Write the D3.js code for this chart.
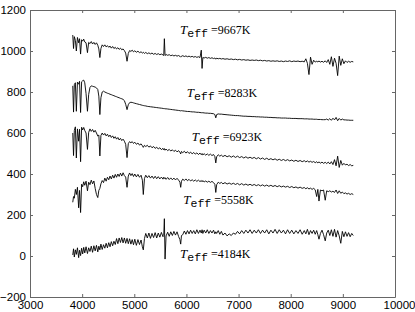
<!DOCTYPE html>
<html>
<head>
<meta charset="utf-8">
<script src="https://cdn.jsdelivr.net/npm/d3@7"></script>
<style>
  body { margin: 0; background: #fff; }
  .axis text { font-family: "Liberation Sans", Arial, sans-serif; font-size: 11.5px; fill: #000; }
  .axis path, .axis line { stroke: #666; }
  .spec { fill: none; stroke: #000; stroke-width: 0.9; stroke-linejoin: round; }
</style>
</head>
<body>
<div id="chart"></div>
<script>
// Sample wavelengths (Angstrom), shared by all spectra
var wave = [
  3820, 3835, 3850, 3870, 3889, 3910, 3933, 3950, 3970, 3990,
  4010, 4030, 4050, 4075, 4102, 4125, 4150, 4175, 4200, 4225,
  4250, 4275, 4300, 4320, 4340, 4360, 4385, 4410, 4435, 4460,
  4485, 4510, 4535, 4560, 4585, 4610, 4635, 4660, 4685, 4710,
  4735, 4760, 4785, 4810, 4835, 4861, 4885, 4910, 4935, 4960,
  4985, 5010, 5040, 5070, 5100, 5130, 5155, 5173, 5195, 5220,
  5250, 5280, 5310, 5340, 5370, 5400, 5430, 5460, 5490, 5520,
  5550, 5565, 5577, 5590, 5610, 5640, 5670, 5700, 5730, 5760,
  5790, 5820, 5850, 5875, 5890, 5905, 5930, 5960, 5990, 6020,
  6050, 6080, 6110, 6140, 6170, 6200, 6230, 6260, 6285, 6300,
  6315, 6340, 6370, 6400, 6430, 6460, 6490, 6520, 6545, 6563,
  6580, 6610, 6640, 6670, 6700, 6740, 6780, 6820, 6860, 6900,
  6940, 6980, 7020, 7060, 7100, 7140, 7180, 7220, 7260, 7300,
  7340, 7380, 7420, 7460, 7500, 7540, 7580, 7620, 7660, 7700,
  7740, 7780, 7820, 7860, 7900, 7940, 7980, 8020, 8060, 8100,
  8140, 8180, 8220, 8260, 8290, 8320, 8350, 8380, 8410, 8440,
  8470, 8498, 8520, 8542, 8570, 8600, 8630, 8662, 8690, 8720,
  8750, 8780, 8810, 8840, 8870, 8900, 8930, 8960, 8990, 9020,
  9050, 9080, 9110, 9140, 9170, 9200
];

// Flux of each spectrum (offset)
var flux9667 = [
  1078, 1012, 1070, 1052, 1000, 1066, 1040, 1060, 985, 1055,
  1048, 1058, 1044, 1040, 992, 1042, 1036, 1046, 1034, 1042,
  1032, 1040, 1028, 1010, 968, 1012, 1030, 1022, 1030, 1020,
  1026, 1018, 1024, 1014, 1022, 1012, 1018, 1010, 1016, 1008,
  1014, 1006, 1010, 1002, 990, 950, 988, 1002, 998, 1004,
  996, 1001, 994, 999, 992, 996, 990, 994, 988, 993,
  987, 991, 986, 990, 984, 988, 983, 987, 982, 985,
  981, 978, 1060, 978, 983, 979, 982, 977, 980, 976,
  979, 975, 978, 974, 970, 975, 977, 973, 976, 972,
  975, 971, 974, 970, 973, 969, 972, 968, 1004, 915,
  968, 966, 969, 965, 968, 964, 967, 963, 966, 960,
  965, 962, 964, 961, 963, 960, 962, 959, 961, 958,
  960, 957, 959, 956, 958, 955, 957, 954, 956, 954,
  956, 953, 955, 952, 954, 951, 953, 950, 952, 950,
  952, 949, 951, 948, 951, 949, 952, 948, 951, 949,
  951, 948, 950, 947, 962, 940, 885, 970, 935, 955,
  946, 950, 947, 951, 946, 950, 945, 952, 944, 958,
  935, 972, 925, 965, 940, 880, 975, 930, 962, 938,
  952, 944, 950, 945, 949, 947
];

var flux8283 = [
  830, 702, 836, 845, 706, 848, 838, 852, 700, 850,
  855, 858, 845, 792, 706, 788, 822, 830, 828, 826,
  824, 820, 812, 780, 690, 772, 800, 804, 800, 797,
  794, 792, 789, 787, 784, 782, 779, 777, 774, 772,
  769, 767, 764, 758, 740, 714, 738, 748, 750, 749,
  747, 745, 743, 741, 739, 737, 735, 734, 733, 732,
  730, 729, 728, 727, 726, 725, 724, 723, 722, 721,
  720, 719, 719, 718, 718, 717, 716, 715, 714, 713,
  712, 711, 710, 709, 708, 709, 708, 707, 706, 705,
  705, 704, 703, 703, 702, 701, 701, 700, 699, 699,
  699, 698, 697, 697, 696, 696, 695, 694, 690, 674,
  690, 693, 692, 692, 691, 690, 689, 688, 687, 686,
  685, 685, 684, 683, 682, 682, 681, 681, 680, 680,
  679, 679, 678, 678, 677, 677, 676, 676, 675, 675,
  674, 674, 673, 673, 673, 672, 672, 671, 671, 671,
  670, 670, 670, 669, 669, 669, 668, 668, 668, 667,
  667, 667, 666, 666, 666, 665, 665, 665, 668, 663,
  670, 662, 672, 664, 676, 660, 671, 663, 668, 664,
  664, 663, 663, 662, 662, 662
];

var flux6923 = [
  600, 490, 612, 630, 478, 620, 560, 618, 460, 628,
  615, 627, 612, 600, 520, 603, 620, 608, 617, 604,
  613, 600, 585, 590, 488, 588, 600, 590, 598, 586,
  594, 582, 590, 578, 586, 574, 582, 570, 578, 566,
  574, 563, 570, 560, 545, 480, 548, 558, 552, 558,
  549, 555, 545, 551, 541, 547, 538, 530, 540, 534,
  540, 531, 537, 528, 534, 525, 531, 522, 528, 519,
  525, 518, 524, 516, 522, 514, 520, 512, 518, 510,
  516, 508, 514, 506, 498, 510, 504, 511, 502, 509,
  500, 507, 498, 505, 497, 503, 495, 502, 494, 500,
  493, 499, 492, 498, 491, 497, 490, 495, 485, 454,
  484, 494, 487, 492, 485, 491, 484, 489, 482, 488,
  481, 487, 480, 485, 478, 484, 477, 482, 476, 481,
  474, 480, 473, 478, 471, 477, 470, 475, 469, 474,
  467, 472, 466, 471, 465, 470, 464, 468, 462, 467,
  461, 466, 460, 465, 459, 464, 458, 462, 457, 461,
  455, 460, 454, 459, 453, 458, 452, 457, 451, 458,
  449, 460, 446, 470, 440, 487, 432, 466, 443, 452,
  444, 448, 441, 446, 440, 442
];

var flux5558 = [
  262, 290, 282, 325, 300, 335, 235, 320, 212, 350,
  338, 362, 345, 365, 318, 360, 348, 370, 352, 366,
  330, 300, 285, 320, 330, 352, 368, 358, 380, 365,
  384, 372, 390, 376, 394, 380, 398, 384, 400, 388,
  404, 390, 406, 392, 385, 335, 390, 405, 392, 402,
  388, 400, 386, 398, 384, 394, 370, 300, 378, 394,
  382, 392, 380, 390, 378, 389, 377, 387, 376, 385,
  375, 384, 378, 382, 374, 383, 373, 381, 372, 380,
  371, 379, 370, 360, 335, 365, 375, 368, 376, 367,
  374, 366, 372, 365, 371, 364, 370, 363, 368, 362,
  368, 361, 366, 360, 365, 359, 364, 358, 350, 310,
  348, 360, 354, 359, 352, 358, 351, 356, 350, 355,
  349, 354, 347, 353, 346, 351, 345, 350, 344, 349,
  343, 348, 342, 347, 341, 346, 340, 345, 339, 344,
  338, 343, 337, 341, 336, 340, 334, 339, 333, 337,
  331, 336, 330, 334, 328, 333, 327, 331, 325, 330,
  323, 290, 325, 268, 322, 318, 322, 272, 318, 314,
  318, 312, 316, 310, 322, 305, 318, 306, 312, 304,
  308, 302, 306, 300, 304, 300
];

var flux4184 = [
  5, 35, -5, 30, 8, 40, -8, 28, 2, 38,
  10, 42, 15, 45, 12, 40, 22, 48, 18, 50,
  25, 52, 20, 48, 30, 58, 32, 55, 38, 62,
  40, 65, 45, 70, 50, 72, 56, 85, 60, 88,
  66, 90, 64, 88, 62, 86, 60, 84, 58, 80,
  55, 82, 52, 80, 56, 78, 45, 30, 85, 110,
  88, 112, 86, 110, 90, 114, 88, 112, 92, 115,
  94, 100, 182, -15, 98, 116, 96, 118, 100, 120,
  102, 118, 95, 80, 58, 100, 104, 122, 106, 124,
  108, 126, 110, 124, 108, 128, 110, 126, 112, 128,
  110, 126, 112, 128, 110, 124, 112, 126, 108, 118,
  110, 124, 106, 120, 102, 112, 98, 108, 100, 112,
  106, 120, 108, 124, 110, 126, 112, 128, 110, 126,
  112, 128, 110, 126, 112, 128, 108, 126, 112, 130,
  110, 128, 112, 126, 108, 128, 110, 126, 108, 124,
  110, 128, 106, 124, 108, 130, 104, 124, 110, 126,
  106, 124, 104, 82, 110, 126, 104, 74, 112, 126,
  100, 128, 96, 130, 92, 124, 98, 62, 120, 94,
  118, 96, 114, 94, 110, 100
];

// Effective temperatures and where their labels sit (data units)
var teffValues = [9667, 8283, 6923, 5558, 4184];
var labelWave = [5877, 6005, 6101, 5940, 5877];
var labelFlux = [1085, 775, 563, 256, -12];

var xTicks = [3000, 4000, 5000, 6000, 7000, 8000, 9000, 10000];
var yTicks = [-200, 0, 200, 400, 600, 800, 1000, 1200];

var svgWidth = 415;
var svgHeight = 312;
var margin = {top: 10, right: 20, bottom: 15, left: 30};
var width = svgWidth - margin.left - margin.right;
var height = svgHeight - margin.top - margin.bottom;

var svg = d3.select("#chart")
  .append("svg")
  .attr("width", svgWidth)
  .attr("height", svgHeight);

var chartGroup = svg.append("g")
  .attr("transform", `translate(${margin.left}, ${margin.top})`);

var xScale = d3.scaleLinear().domain([3000, 10000]).range([0, width]);
var yScale = d3.scaleLinear().domain([-200, 1200]).range([height, 0]);

// axes: MATLAB box with inward ticks on all four sides
var xAxisBottom = chartGroup.append("g")
  .attr("class", "axis")
  .attr("transform", `translate(0, ${height})`)
  .call(d3.axisBottom(xScale).tickValues(xTicks).tickSizeInner(-3).tickSizeOuter(0).tickPadding(4).tickFormat(d3.format("d")));

// last label sits a little to the right in the original
xAxisBottom.selectAll(".tick text").filter(d => d === 10000).attr("dx", 4);

chartGroup.append("g")
  .attr("class", "axis")
  .call(d3.axisTop(xScale).tickValues(xTicks).tickSizeInner(-3).tickSizeOuter(0).tickFormat(""));

chartGroup.append("g")
  .attr("class", "axis")
  .call(d3.axisLeft(yScale).tickValues(yTicks).tickSizeInner(-3).tickSizeOuter(0).tickPadding(4).tickFormat(d3.format("d")));

chartGroup.append("g")
  .attr("class", "axis")
  .attr("transform", `translate(${width}, 0)`)
  .call(d3.axisRight(yScale).tickValues(yTicks).tickSizeInner(-3).tickSizeOuter(0).tickFormat(""));

// spectra
var spectra = [flux9667, flux8283, flux6923, flux5558, flux4184];

var line = d3.line()
  .x(d => xScale(d[0]))
  .y(d => yScale(d[1]));

chartGroup.selectAll(".spec")
  .data(spectra)
  .enter()
  .append("path")
  .attr("class", "spec")
  .attr("d", flux => line(wave.map((w, i) => [w, flux[i]]).filter(p => p[1] !== undefined)));

// T_eff labels
var labels = chartGroup.selectAll(".teff")
  .data(teffValues)
  .enter()
  .append("text")
  .attr("class", "teff")
  .attr("x", (d, i) => xScale(labelWave[i]))
  .attr("y", (d, i) => yScale(labelFlux[i]));

labels.append("tspan")
  .style("font-family", "'Liberation Serif', 'Times New Roman', serif")
  .style("font-style", "italic")
  .style("font-size", "13px")
  .text("T");

labels.append("tspan")
  .style("font-family", "'Liberation Mono', 'DejaVu Sans Mono', monospace")
  .style("font-size", "11.5px")
  .attr("dy", 3)
  .text("eff");

labels.append("tspan")
  .style("font-family", "'Liberation Serif', 'Times New Roman', serif")
  .style("font-size", "12px")
  .attr("dy", -3)
  .text(d => "\u00a0=" + d + "K");
</script>
</body>
</html>
